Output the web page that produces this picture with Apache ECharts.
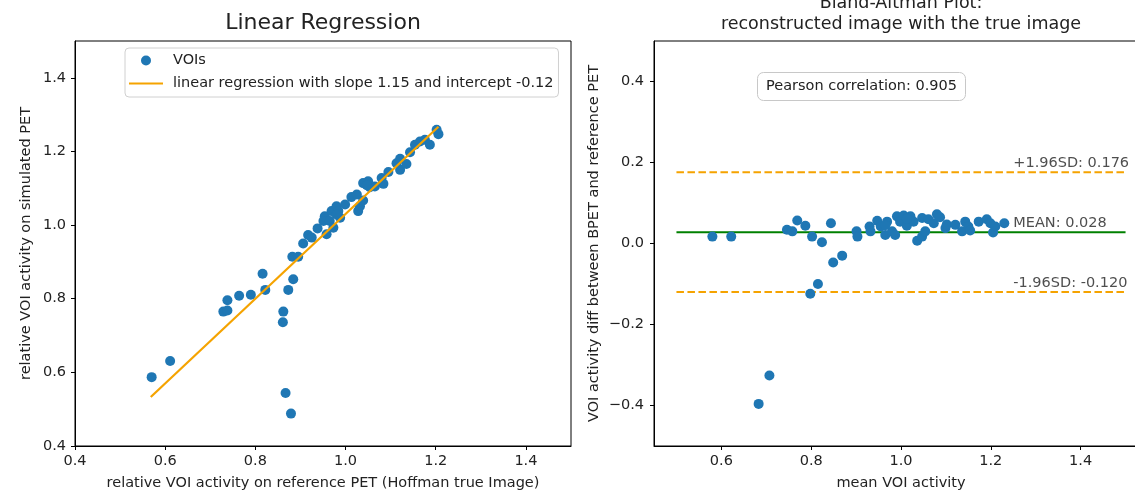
<!DOCTYPE html>
<html>
<head>
<meta charset="utf-8">
<script src="https://cdn.jsdelivr.net/npm/echarts@6/dist/echarts.min.js"></script>
<style>html,body{margin:0;padding:0;background:#fff;overflow:hidden;}#c{width:1135px;height:492px;}</style>
</head>
<body>
<div id="c"></div>
<script>
// ---------- data ----------
const xTicksLeft = [0.4, 0.6, 0.8, 1.0, 1.2, 1.4];
const yTicksLeft = [0.4, 0.6, 0.8, 1.0, 1.2, 1.4];
const xTicksRight = [0.6, 0.8, 1.0, 1.2, 1.4];
const yTicksRight = [-0.4, -0.2, 0.0, 0.2, 0.4];

// Linear regression: reference (x) vs simulated (y)
const voiRef = [0.570,0.611,0.729,0.738,0.738,0.764,0.790,0.816,0.822,0.862,0.861,0.873,0.884,0.867,0.879,
  0.882,0.895,0.906,0.917,0.925,0.938,0.954,0.951,0.958,0.965,0.969,0.973,0.980,0.984,0.988,0.999,1.013,
  1.025,1.028,1.032,1.039,1.039,1.050,1.054,1.065,1.080,1.084,1.095,1.113,1.121,1.121,1.135,1.143,1.154,
  1.165,1.176,1.187,1.202,1.206,1.047,0.980];
const voiSim = [0.587,0.631,0.765,0.768,0.796,0.808,0.811,0.868,0.824,0.765,0.736,0.824,0.853,0.544,0.488,
  0.914,0.914,0.950,0.973,0.966,0.991,1.024,1.011,0.975,1.011,1.038,0.993,1.051,1.038,1.020,1.056,1.076,
  1.083,1.038,1.051,1.067,1.114,1.119,1.103,1.105,1.128,1.112,1.144,1.168,1.180,1.150,1.166,1.198,1.218,
  1.227,1.232,1.218,1.259,1.247,1.108,1.029];
const regLineX = [0.568, 1.206];
const regLineY = [0.533, 1.267];
const slope = 1.15, intercept = -0.12;

// Bland-Altman
const baMean = [0.580,0.622,0.746,0.758,0.769,0.787,0.802,0.824,0.844,0.849,0.869,0.901,0.903,0.930,0.932,
  0.947,0.955,0.965,0.969,0.980,0.987,0.991,0.998,1.006,1.013,1.021,1.028,1.036,1.047,1.054,1.047,1.061,
  1.073,1.080,1.087,1.099,1.102,1.121,1.136,1.143,1.150,1.154,1.173,1.191,1.199,1.205,1.210,1.230,0.965,
  1.013,0.798,0.815,0.707,0.683];
const baDiff = [0.017,0.017,0.034,0.030,0.057,0.044,0.017,0.003,0.050,-0.047,-0.030,0.030,0.017,0.042,0.030,
  0.056,0.042,0.021,0.054,0.030,0.021,0.067,0.054,0.069,0.044,0.067,0.054,0.007,0.017,0.030,0.063,0.060,
  0.050,0.072,0.065,0.038,0.047,0.046,0.030,0.054,0.042,0.032,0.054,0.060,0.050,0.027,0.042,0.050,0.045,
  0.061,-0.124,-0.100,-0.326,-0.396];
const meanDiff = 0.028, upperSD = 0.176, lowerSD = -0.120;
const limitLineX = [0.5, 1.5];
const annotX = 1.25;
const pearson = 0.905;

// ---------- chart ----------
const zip = (a, b) => a.map((v, i) => [v, b[i]]);
const fmt = v => (v < 0 ? '\u2212' : '') + Math.abs(v).toFixed(1);
const txt = '#222';
const FONT = 'DejaVu Sans';
const FS = 14.5;
const regName = 'linear regression with slope ' + slope.toFixed(2) + ' and intercept ' + intercept.toFixed(2);

function axis(gridIndex, min, max, ticks, margin, extra) {
  return Object.assign({
    type: 'value', gridIndex, min, max,
    axisLine: { show: true, onZero: false, lineStyle: { color: '#000', width: 1 } },
    axisTick: { show: true, inside: false, length: 4, customValues: ticks, lineStyle: { color: '#000' } },
    axisLabel: { show: true, customValues: ticks, formatter: fmt, color: txt, fontSize: FS, fontFamily: FONT, margin },
    splitLine: { show: false },
    nameTextStyle: { color: txt, fontSize: FS, fontFamily: FONT }
  }, extra);
}

const chart = echarts.init(document.getElementById('c'), null, { renderer: 'canvas' });
chart.setOption({
  animation: false,
  backgroundColor: '#fff',
  textStyle: { fontFamily: FONT },
  title: [
    { text: 'Linear Regression', left: 323, top: 12, textAlign: 'center', padding: 0,
      textStyle: { fontSize: 22, fontWeight: 'normal', color: txt, fontFamily: FONT, lineHeight: 22 } },
    { text: 'Bland-Altman Plot:\nreconstructed image with the true image', left: 901, top: -7, textAlign: 'center', padding: 0,
      textStyle: { fontSize: 17.5, fontWeight: 'normal', color: txt, fontFamily: FONT, lineHeight: 21 } },
    { text: 'Pearson correlation: ' + pearson.toFixed(3), left: 757, top: 72,
      padding: [6, 9, 6, 9], borderColor: '#c8c8c8', borderWidth: 1, borderRadius: 6,
      textStyle: { fontSize: FS, fontWeight: 'normal', color: txt, fontFamily: FONT, lineHeight: 17 } }
  ],
  legend: {
    left: 125, top: 48, orient: 'vertical',
    padding: [4, 5, 5, 3], itemGap: 6, itemWidth: 34, itemHeight: 10,
    borderColor: '#d0d0d0', borderWidth: 1, borderRadius: 4, backgroundColor: '#fff',
    textStyle: { fontSize: FS, color: txt, fontFamily: FONT, lineHeight: 17, padding: [0, 0, 0, 5] },
    data: [{ name: 'VOIs', icon: 'circle' }, { name: regName, itemStyle: { opacity: 0 } }]
  },
  grid: [
    { left: 75, width: 496, top: 41, bottom: 46, show: true, borderColor: '#000', borderWidth: 1,
      backgroundColor: 'transparent', containLabel: false, outerBoundsMode: 'none' },
    { left: 654, width: 494, top: 41, bottom: 46, show: true, borderColor: '#000', borderWidth: 1,
      backgroundColor: 'transparent', containLabel: false, outerBoundsMode: 'none' }
  ],
  xAxis: [
    axis(0, 0.4, 1.5, xTicksLeft, 8, { name: 'relative VOI activity on reference PET (Hoffman true Image)', nameLocation: 'middle', nameGap: 30 }),
    axis(1, 0.45, 1.55, xTicksRight, 8, { name: 'mean VOI activity', nameLocation: 'middle', nameGap: 30 })
  ],
  yAxis: [
    axis(0, 0.4, 1.5, yTicksLeft, 9, { name: 'relative VOI activity on simulated PET', nameLocation: 'middle', nameGap: 41 }),
    axis(1, -0.5, 0.5, yTicksRight, 10, { name: 'VOI activity diff between BPET and reference PET', nameLocation: 'middle', nameGap: 52 })
  ],
  series: [
    { name: 'VOIs', type: 'scatter', xAxisIndex: 0, yAxisIndex: 0, data: zip(voiRef, voiSim),
      symbolSize: 10, itemStyle: { color: '#1f77b4', opacity: 1 }, z: 2 },
    { name: regName, type: 'line', xAxisIndex: 0, yAxisIndex: 0, data: zip(regLineX, regLineY),
      symbol: 'none', showSymbol: false, lineStyle: { color: '#f5a300', width: 2.2 }, itemStyle: { color: '#f5a300' }, z: 3 },
    { name: 'upper', type: 'line', xAxisIndex: 1, yAxisIndex: 1, data: limitLineX.map(x => [x, upperSD]),
      symbol: 'none', lineStyle: { color: '#f5a300', width: 2, type: [7.5, 3.5] }, z: 1 },
    { name: 'mean', type: 'line', xAxisIndex: 1, yAxisIndex: 1, data: limitLineX.map(x => [x, meanDiff]),
      symbol: 'none', lineStyle: { color: '#008000', width: 2 }, z: 1 },
    { name: 'lower', type: 'line', xAxisIndex: 1, yAxisIndex: 1, data: limitLineX.map(x => [x, lowerSD]),
      symbol: 'none', lineStyle: { color: '#f5a300', width: 2, type: [7.5, 3.5] }, z: 1 },
    { name: 'BA', type: 'scatter', xAxisIndex: 1, yAxisIndex: 1, data: zip(baMean, baDiff),
      symbolSize: 10, itemStyle: { color: '#1f77b4', opacity: 1 }, z: 2 },
    { name: 'annot', type: 'scatter', xAxisIndex: 1, yAxisIndex: 1, symbolSize: 0, silent: true, z: 4,
      data: [
        { value: [annotX, upperSD], label: { formatter: '+1.96SD: ' + upperSD.toFixed(3) } },
        { value: [annotX, meanDiff], label: { formatter: 'MEAN: ' + meanDiff.toFixed(3) } },
        { value: [annotX, lowerSD], label: { formatter: '-1.96SD: ' + lowerSD.toFixed(3) } }
      ],
      label: { show: true, position: [0, -1], align: 'left', verticalAlign: 'bottom',
        fontSize: FS, color: txt, fontFamily: FONT } }
  ]
});
</script>
</body>
</html>
